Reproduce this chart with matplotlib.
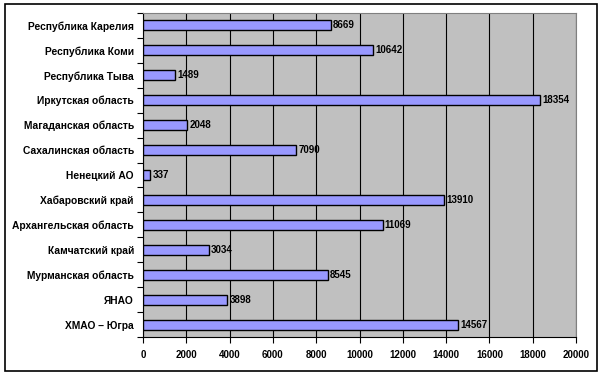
import matplotlib
matplotlib.use('Agg')
from matplotlib import pyplot as plt
from matplotlib.patches import Rectangle
from matplotlib.ticker import MultipleLocator

# regions, top to bottom
regions = ['Республика Карелия', 'Республика Коми', 'Республика Тыва',
           'Иркутская область', 'Магаданская область', 'Сахалинская область',
           'Ненецкий АО', 'Хабаровский край', 'Архангельская область',
           'Камчатский край', 'Мурманская область', 'ЯНАО', 'ХМАО – Югра']
values = [8669, 10642, 1489, 18354, 2048, 7090, 337, 13910, 11069,
          3034, 8545, 3898, 14567]
xticks = [0, 2000, 4000, 6000, 8000, 10000, 12000, 14000, 16000, 18000, 20000]

plt.rcParams['font.family'] = ['Liberation Sans', 'DejaVu Sans']

fig = plt.figure(figsize=(6.03, 3.76), dpi=100)
ax = fig.add_axes([143 / 603, 1 - 337 / 376, 433 / 603, 324 / 376])

pos = list(range(len(regions)))
ax.barh(pos, values, height=0.4, color='#9999FF', edgecolor='black', linewidth=1.0, zorder=3)
for p, v in zip(pos, values):
    ax.text(v + 100, p, str(v), va='center', ha='left', fontsize=7,
            fontweight='bold', zorder=4)

ax.set_facecolor('#C0C0C0')
ax.set_xlim(0, 20000)
ax.set_ylim(len(regions) - 0.5, -0.5)
ax.set_xticks(xticks)
ax.set_xticklabels([str(t) for t in xticks], fontsize=7, fontweight='bold')
ax.set_yticks(pos)
ax.set_yticklabels(regions, fontsize=7.4, fontweight='bold')
ax.tick_params(axis='y', length=0, pad=6.5)
ax.yaxis.set_minor_locator(MultipleLocator(1, offset=0.5))
ax.tick_params(axis='y', which='minor', length=4, width=0.8, color='black')
ax.tick_params(axis='x', length=4, width=0.8, pad=5)
ax.grid(axis='x', color='black', linewidth=0.8, zorder=1)
ax.set_axisbelow(True)

for side in ['top', 'right']:
    ax.spines[side].set_color('#808080')
for side in ['left', 'bottom']:
    ax.spines[side].set_color('black')
    ax.spines[side].set_linewidth(0.8)

# outer chart frame
fig.patches.append(Rectangle((4.5 / 603, 1 - 371 / 376), 592 / 603, 367 / 376,
                             transform=fig.transFigure, fill=False,
                             edgecolor='black', linewidth=1.2))

fig.savefig('out.png', dpi=100)
